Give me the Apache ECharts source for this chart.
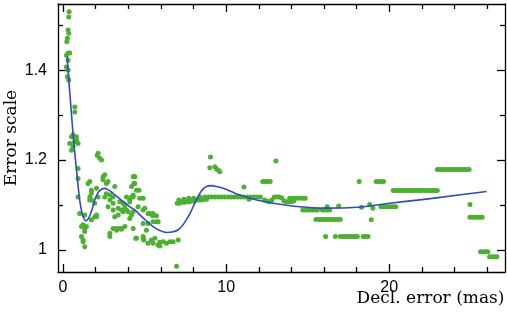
<!DOCTYPE html>
<html>
<head>
<meta charset="utf-8">
<script src="https://cdn.jsdelivr.net/npm/echarts@6/dist/echarts.min.js"></script>
<style>html,body{margin:0;padding:0;background:#fff;}#c{width:507px;height:315px;}</style>
</head>
<body>
<div id="c"></div>
<script>
// ---- data ----
const xTickMajor = [0, 10, 20];
const xTickMinor = [2, 4, 6, 8, 12, 14, 16, 18, 22, 24, 26];
const yTickMajor = [1, 1.2, 1.4];
const yTickMinor = [1.1, 1.3, 1.5];

const earlyPoints = [
  [0.37,1.530],[0.35,1.518],[0.31,1.489],[0.35,1.482],[0.27,1.471],[0.23,1.463],[0.31,1.438],[0.41,1.438],
  [0.21,1.433],[0.31,1.422],[0.21,1.407],[0.31,1.400],[0.27,1.385],[0.35,1.378],[0.72,1.318],[0.72,1.307],
  [0.61,1.256],[0.52,1.252],[0.82,1.252],[0.92,1.237],[0.41,1.237],[0.61,1.230],[0.82,1.244],[0.52,1.222],[0.70,1.240]
];
const dipPoints = [
  [2.10,1.210],[2.15,1.215],[2.25,1.204],[2.36,1.200],[0.92,1.181],[0.92,1.159],[1.64,1.152],[2.56,1.167],
  [2.45,1.156],[2.76,1.152],[2.05,1.137],[1.74,1.133],[1.64,1.118],[1.74,1.111],[2.15,1.118],[2.56,1.118],
  [2.66,1.125],[2.87,1.111],[3.07,1.118],[0.92,1.118],[1.02,1.081],[1.33,1.078],[1.94,1.074],[1.74,1.067],
  [2.05,1.078],[1.23,1.056],[1.43,1.052],[1.33,1.048],[1.13,1.030],[1.23,1.018],[1.33,1.007],[1.53,1.148],
  [1.74,1.126],[1.64,1.111],[1.94,1.104],[2.05,1.074],[1.13,1.052],[1.33,1.041],[1.23,1.022],[2.45,1.163],
  [2.66,1.148],[3.17,1.141],[2.87,1.122],[3.07,1.104],[3.38,1.093],[3.68,1.104],[3.89,1.089],[4.20,1.118],
  [4.30,1.163],[4.40,1.148],[3.28,1.044],[3.48,1.048],[2.87,1.030],[4.50,1.026],[4.91,1.026],[5.11,1.044],
  [5.21,1.015],[5.63,1.026],[5.83,1.011],[5.73,1.063],[4.91,1.089],[5.32,1.081],[4.70,1.115],[5.52,1.081],
  [2.76,1.096],[3.07,1.089],[3.17,1.074],[3.38,1.078],[3.58,1.089],[3.79,1.096],[3.99,1.085],[4.20,1.078],
  [3.07,1.048],[3.28,1.048],[3.58,1.048],[2.87,1.037],[3.79,1.052],[4.09,1.111],[4.30,1.122],[4.20,1.141],[4.40,1.163]
];
const midPoints = [
  [4.34,1.164],[4.34,1.148],[4.66,1.133],[4.50,1.133],[3.89,1.118],[4.30,1.118],[4.91,1.115],[3.48,1.107],
  [4.09,1.107],[4.60,1.096],[5.01,1.093],[3.68,1.085],[4.30,1.085],[5.21,1.081],[5.73,1.076],[5.50,1.076],
  [4.09,1.070],[4.91,1.059],[5.21,1.059],[5.52,1.063],[5.83,1.063],[3.58,1.046],[4.30,1.048],[4.46,1.026],
  [4.91,1.030],[4.95,1.022],[5.42,1.022],[5.52,1.015],[5.93,1.009],[5.93,1.017],[6.14,1.018],[6.34,1.015],
  [6.55,1.018],[6.75,1.018],[7.06,1.022],[6.96,0.964]
];
const plateauPoints = [
  [7.00,1.104],[7.15,1.104],[7.30,1.106],[7.45,1.106],[7.60,1.107],[7.75,1.107],[7.90,1.109],[8.05,1.109],
  [8.20,1.111],[8.35,1.111],[8.50,1.111],[8.65,1.113],[8.80,1.113],[7.10,1.111],[7.40,1.113],[7.70,1.115],
  [8.00,1.115],[8.40,1.118],[8.70,1.118],
  [9.04,1.207],[9.00,1.183],[9.31,1.185],[9.40,1.180],[9.51,1.178],[9.61,1.174],
  [8.90,1.118],[9.10,1.118],[9.30,1.118],[9.50,1.118],[9.70,1.118],[9.90,1.118],[10.10,1.118],[10.30,1.118],
  [10.50,1.118],[10.70,1.118],[10.90,1.118],[11.10,1.118],[11.30,1.118],[11.50,1.118],[11.70,1.118],[11.90,1.118],
  [12.10,1.118],[11.09,1.140],[11.40,1.113],
  [12.25,1.152],[12.40,1.152],[12.55,1.152],[12.70,1.152],[13.05,1.198],
  [12.35,1.111],[12.50,1.109],[12.65,1.107],[12.80,1.111],[12.95,1.118],[13.10,1.118],[13.25,1.118],[13.40,1.116],
  [13.55,1.109],[13.70,1.107],[13.85,1.107],[14.00,1.107],[14.15,1.109],[13.90,1.115],[14.10,1.115],[14.30,1.115],
  [14.50,1.115],[14.70,1.115],[14.85,1.115]
];
const tailPoints = [
  [14.70,1.089],[14.85,1.089],[15.00,1.089],[15.15,1.089],[15.30,1.089],[15.45,1.089],[15.60,1.089],
  [15.90,1.089],[16.05,1.089],[16.20,1.089],[16.35,1.089],
  [15.50,1.068],[15.65,1.068],[15.80,1.068],[15.95,1.068],[16.10,1.068],[16.25,1.068],[16.40,1.068],[16.55,1.068],
  [16.70,1.068],[16.85,1.068],[17.00,1.068],
  [16.10,1.030],[16.70,1.030],[17.00,1.030],[17.15,1.030],[17.30,1.030],[17.45,1.030],[17.60,1.030],[17.75,1.030],
  [17.90,1.030],[18.05,1.030],[18.40,1.030],[18.55,1.030],[18.70,1.030],
  [16.20,1.096],[16.90,1.098],[18.30,1.095],[18.80,1.101],[19.00,1.093],[18.90,1.067],
  [18.16,1.152],[19.20,1.152],[19.35,1.152],[19.50,1.152],[19.65,1.152],
  [19.50,1.096],[19.65,1.096],[19.80,1.096],[19.95,1.096],[20.10,1.096],[20.25,1.096],[20.40,1.096],
  [20.25,1.132],[20.40,1.132],[20.55,1.132],[20.70,1.132],[20.85,1.132],[21.00,1.132],[21.15,1.132],[21.30,1.132],
  [21.45,1.132],[21.60,1.132],[21.75,1.132],[21.90,1.132],[22.05,1.132],[22.20,1.132],[22.35,1.132],[22.50,1.132],
  [22.65,1.132],[22.80,1.132],[22.95,1.132],
  [22.95,1.179],[23.10,1.179],[23.25,1.179],[23.40,1.179],[23.55,1.179],[23.70,1.179],[23.85,1.179],[24.00,1.179],
  [24.15,1.179],[24.30,1.179],[24.45,1.179],[24.60,1.179],[24.75,1.179],[24.90,1.179],
  [24.95,1.101],
  [24.95,1.073],[25.10,1.073],[25.25,1.073],[25.40,1.073],[25.55,1.073],[25.70,1.073],
  [25.60,0.996],[25.75,0.996],[25.90,0.996],[26.05,0.996],
  [26.15,0.985],[26.30,0.985],[26.45,0.985],[26.60,0.985]
];

const curveX = [0.25,0.37,0.50,0.61,0.72,0.82,0.92,1.02,1.13,1.23,1.39,1.50,1.64,1.80,1.94,2.10,2.25,2.52,2.80,3.07,
  3.50,3.79,4.10,4.40,4.71,5.10,5.52,5.90,6.34,6.70,7.06,7.40,7.77,8.10,8.39,8.59,8.80,9.10,9.40,9.82,
  10.30,10.84,11.87,12.88,14.52,15.95,18.00,20.04,22.00,24.00,25.97];
const curveY = [1.430,1.370,1.310,1.259,1.215,1.180,1.143,1.111,1.088,1.074,1.065,1.067,1.076,1.093,1.111,1.124,1.132,1.137,1.133,1.126,
  1.113,1.105,1.096,1.089,1.078,1.065,1.052,1.044,1.039,1.040,1.045,1.058,1.080,1.106,1.126,1.136,1.141,1.143,1.141,1.137,
  1.130,1.122,1.111,1.104,1.096,1.093,1.095,1.104,1.112,1.121,1.130];

const xMin = -0.31, xMax = 27.1, yMin = 0.951, yMax = 1.547;

// ---- chart ----
const chart = echarts.init(document.getElementById('c'), null, {renderer: 'canvas'});
const rect = {left: 58, right: 2, top: 4, bottom: 43, containLabel: false, outerBoundsMode: 'none'};
const black = '#000';
const lab = {color: black, fontSize: 16, fontFamily: 'Liberation Sans, Arial, sans-serif'};

function xAx(grid, pos, ticks, len, main) {
  return {
    type: 'value', gridIndex: grid, position: pos, min: xMin, max: xMax,
    axisLine: {show: main, onZero: false, lineStyle: {color: black, width: 1.3}},
    axisTick: {show: true, inside: true, length: len, customValues: ticks, lineStyle: {color: black, width: 1.3}},
    axisLabel: (main && pos === 'bottom') ? Object.assign({customValues: xTickMajor, margin: 8}, lab) : {show: false},
    splitLine: {show: false}
  };
}
function yAx(grid, pos, ticks, len, main) {
  return {
    type: 'value', gridIndex: grid, position: pos, min: yMin, max: yMax,
    axisLine: {show: main, onZero: false, lineStyle: {color: black, width: 1.3}},
    axisTick: {show: true, inside: true, length: len, customValues: ticks, lineStyle: {color: black, width: 1.3}},
    axisLabel: (main && pos === 'left') ? Object.assign({customValues: yTickMajor, margin: 11}, lab) : {show: false},
    splitLine: {show: false}
  };
}

const xAxes = [xAx(0, 'bottom', xTickMajor, 8, true), xAx(0, 'top', xTickMajor, 8, true),
               xAx(1, 'bottom', xTickMinor, 5, false), xAx(1, 'top', xTickMinor, 5, false)];
xAxes[0].name = 'Decl. error (mas)';
xAxes[0].nameLocation = 'middle';
xAxes[0].nameGap = 18;
xAxes[0].nameMoveOverlap = false;
xAxes[0].nameTextStyle = {color: black, fontSize: 17, fontFamily: 'DejaVu Serif, serif', padding: [0, 0, 0, 298]};

const yAxes = [yAx(0, 'left', yTickMajor, 8, true), yAx(0, 'right', yTickMajor, 8, true),
               yAx(1, 'left', yTickMinor, 5, false), yAx(1, 'right', yTickMinor, 5, false)];
yAxes[0].name = 'Error scale';
yAxes[0].nameLocation = 'middle';
yAxes[0].nameGap = 38;
yAxes[0].nameMoveOverlap = false;
yAxes[0].nameTextStyle = {color: black, fontSize: 17, fontFamily: 'DejaVu Serif, serif'};

const allPoints = [].concat(earlyPoints, dipPoints, midPoints, plateauPoints, tailPoints);

chart.setOption({
  animation: false,
  backgroundColor: '#fff',
  grid: [Object.assign({}, rect), Object.assign({}, rect)],
  xAxis: xAxes,
  yAxis: yAxes,
  series: [
    {type: 'scatter', xAxisIndex: 0, yAxisIndex: 0, data: allPoints, symbolSize: 5,
     itemStyle: {color: '#4cb030', opacity: 1}, z: 2},
    {type: 'line', xAxisIndex: 0, yAxisIndex: 0, data: curveX.map((x, i) => [x, curveY[i]]),
     smooth: 0.4, showSymbol: false, symbol: 'none', lineStyle: {color: '#2d4bbf', width: 1.6}, z: 3}
  ]
});
</script>
</body>
</html>
